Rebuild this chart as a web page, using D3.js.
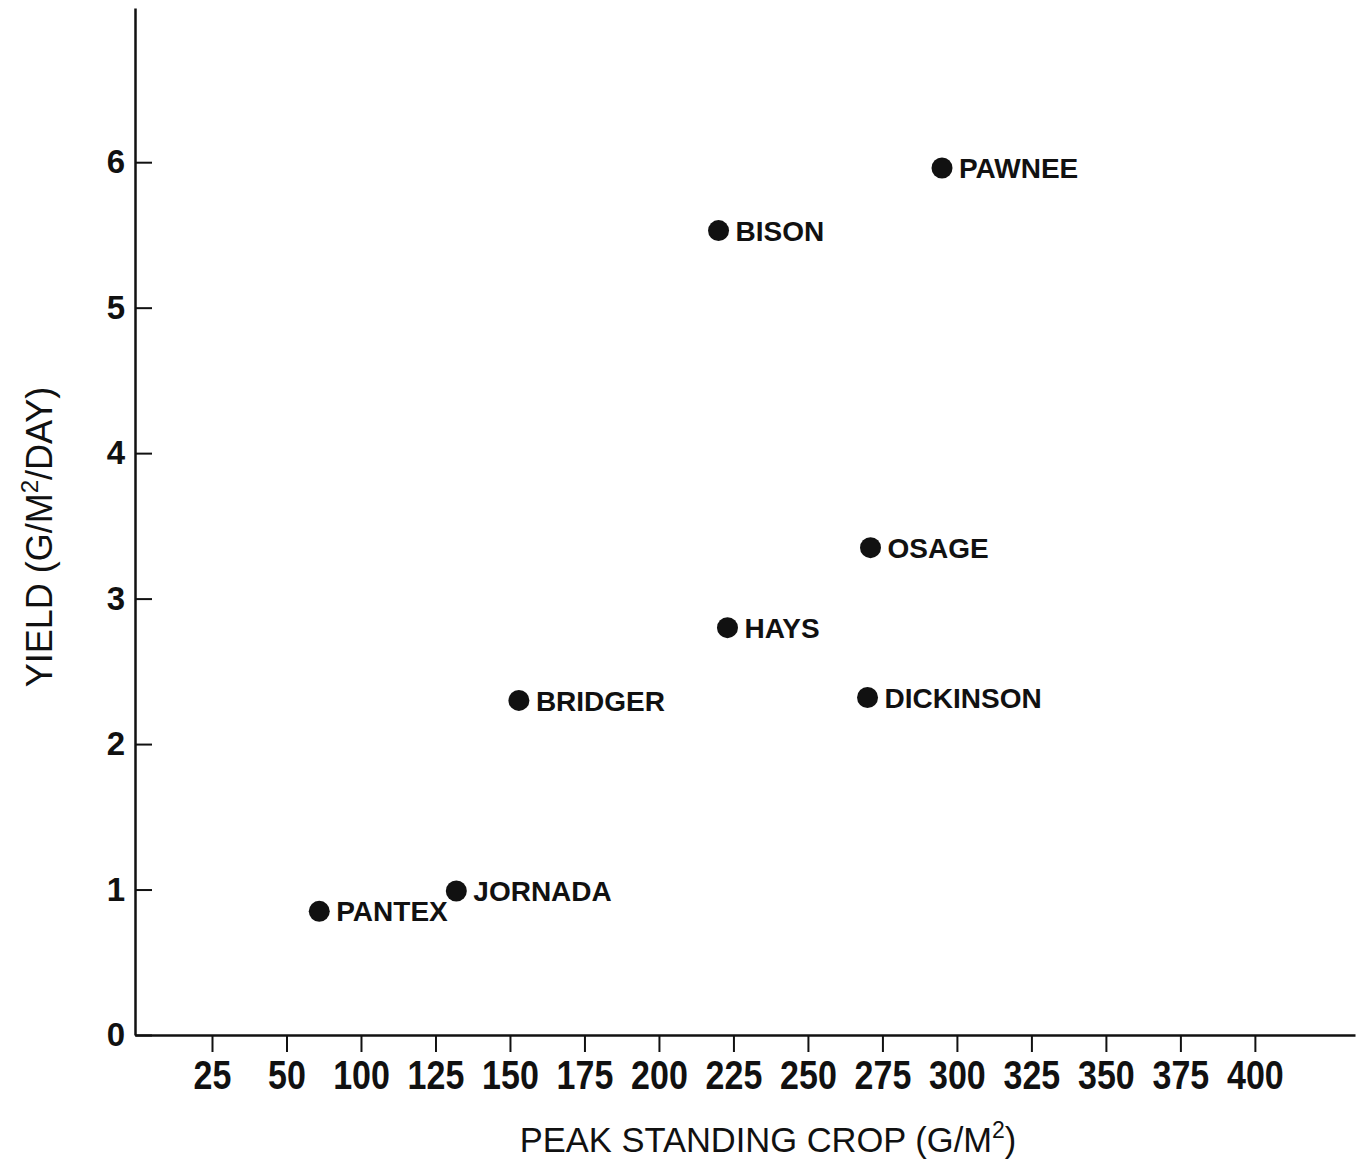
<!DOCTYPE html>
<html>
<head>
<meta charset="utf-8">
<script src="https://cdn.jsdelivr.net/npm/d3@7"></script>
<style>
  body { margin: 0; background: #fff; }
  text { font-family: "Liberation Sans", Arial, Helvetica, sans-serif; fill: #111; }
</style>
</head>
<body>
<script>
// sites and their values
var sites = ["PAWNEE", "BISON", "OSAGE", "HAYS", "DICKINSON", "BRIDGER", "JORNADA", "PANTEX"];
var standingCrop = [295, 220, 271, 223, 270, 153, 132, 86];
var yieldRate = [5.96, 5.53, 3.35, 2.80, 2.32, 2.30, 0.99, 0.85];

// x tick positions and the labels printed under them
// (the source prints 25, 50 where 50, 75 belong)
var xTicks = [50, 75, 100, 125, 150, 175, 200, 225, 250, 275, 300, 325, 350, 375, 400];
var xTickLabels = ["25", "50", "100", "125", "150", "175", "200", "225", "250", "275", "300", "325", "350", "375", "400"];
var yTicks = [0, 1, 2, 3, 4, 5, 6];

var width = 1366, height = 1163;

var svg = d3.select("body")
            .append("svg")
            .attr("width", width)
            .attr("height", height);

var x = d3.scaleLinear()
          .domain([24.16, 433.6])
          .range([135, 1355]);

var y = d3.scaleLinear()
          .domain([0, 7.06])
          .range([1035, 8]);

// x axis
var xAxis = d3.axisBottom(x)
              .tickValues(xTicks)
              .tickFormat(function(d, i) { return xTickLabels[i]; })
              .tickSizeInner(17)
              .tickSizeOuter(0)
              .tickPadding(9);

var gx = svg.append("g")
            .attr("transform", "translate(0," + y(0) + ")")
            .call(xAxis);

gx.select(".domain").attr("stroke", "#111").attr("stroke-width", 2.5);
gx.selectAll(".tick line").attr("stroke", "#111").attr("stroke-width", 2);
gx.selectAll(".tick text")
  .attr("font-size", 40)
  .attr("font-weight", "bold")
  .attr("transform", "scale(0.85,1)")
  .attr("fill", "#111");

// y axis, ticks point inward
var yAxis = d3.axisLeft(y)
              .tickValues(yTicks)
              .tickFormat(d3.format("d"))
              .tickSizeInner(-17)
              .tickSizeOuter(0)
              .tickPadding(10);

var gy = svg.append("g")
            .attr("transform", "translate(" + x.range()[0] + ",0)")
            .call(yAxis);

gy.select(".domain").attr("stroke", "#111").attr("stroke-width", 2.5);
gy.selectAll(".tick line").attr("stroke", "#111").attr("stroke-width", 2);
gy.selectAll(".tick text")
  .attr("font-size", 33)
  .attr("font-weight", "bold")
  .attr("fill", "#111");

// points and labels
var pts = svg.selectAll("g.site")
             .data(sites)
             .enter()
             .append("g")
             .attr("class", "site")
             .attr("transform", function(d, i) {
               return "translate(" + x(standingCrop[i]) + "," + y(yieldRate[i]) + ")";
             });

pts.append("circle")
   .attr("r", 10.5)
   .attr("fill", "#111");

pts.append("text")
   .attr("x", 17)
   .attr("dy", "0.36em")
   .attr("font-size", 28)
   .attr("font-weight", "bold")
   .text(function(d) { return d; });

// axis titles
var xTitle = svg.append("text")
   .attr("x", 768)
   .attr("y", 1152)
   .attr("text-anchor", "middle")
   .attr("font-size", 34.5);
xTitle.append("tspan").text("PEAK  STANDING CROP (G/M");
xTitle.append("tspan").attr("font-size", 23).attr("dy", -14).text("2");
xTitle.append("tspan").attr("dy", 14).text(")");

var yTitle = svg.append("text")
   .attr("transform", "translate(52,537) rotate(-90)")
   .attr("text-anchor", "middle")
   .attr("font-size", 36);
yTitle.append("tspan").text("YIELD (G/M");
yTitle.append("tspan").attr("font-size", 24).attr("dy", -14).text("2");
yTitle.append("tspan").attr("dy", 14).text("/DAY)");
</script>
</body>
</html>
